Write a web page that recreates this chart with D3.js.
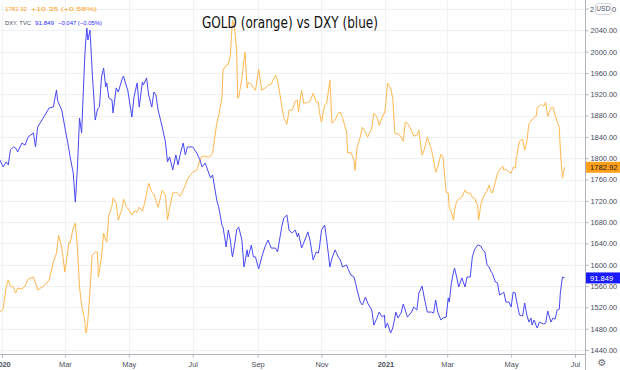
<!DOCTYPE html>
<html>
<head>
<meta charset="utf-8">
<script src="https://d3js.org/d3.v7.min.js"></script>
<style>
    body { margin: 0; background: #ffffff; }
    svg { display: block; font-family: "Liberation Sans", Arial, sans-serif; }
</style>
</head>
<body>
<svg id="chart" width="620" height="370"></svg>
<script>
// data (daily-ish samples)
const dates = [
    "2019-12-30","2020-01-02","2020-01-05","2020-01-07","2020-01-09","2020-01-12","2020-01-14","2020-01-16","2020-01-20","2020-01-23",
    "2020-01-26","2020-01-31","2020-02-02","2020-02-04","2020-02-11","2020-02-15","2020-02-19","2020-02-22","2020-02-23","2020-02-24",
    "2020-02-27","2020-03-01","2020-03-05","2020-03-06","2020-03-09","2020-03-11","2020-03-13","2020-03-15","2020-03-17","2020-03-20",
    "2020-03-21","2020-03-22","2020-03-23","2020-03-25","2020-03-27","2020-03-30","2020-04-01","2020-04-02","2020-04-03","2020-04-05",
    "2020-04-07","2020-04-09","2020-04-10","2020-04-12","2020-04-15","2020-04-16","2020-04-19","2020-04-21","2020-04-25","2020-04-26",
    "2020-04-29","2020-04-30","2020-05-04","2020-05-06","2020-05-09","2020-05-11","2020-05-14","2020-05-15","2020-05-18","2020-05-20",
    "2020-05-23","2020-05-25","2020-05-27","2020-05-29","2020-06-02","2020-06-05","2020-06-07","2020-06-09","2020-06-12","2020-06-15",
    "2020-06-17","2020-06-19","2020-06-22","2020-06-24","2020-06-26","2020-06-28","2020-07-01","2020-07-05","2020-07-08","2020-07-10",
    "2020-07-13","2020-07-16","2020-07-18","2020-07-20","2020-07-24","2020-07-26","2020-07-29","2020-07-30","2020-08-02","2020-08-04",
    "2020-08-06","2020-08-07","2020-08-08","2020-08-10","2020-08-12","2020-08-13","2020-08-14","2020-08-17","2020-08-19","2020-08-20",
    "2020-08-22","2020-08-23","2020-08-26","2020-08-28","2020-08-30","2020-09-02","2020-09-05","2020-09-08","2020-09-11","2020-09-14",
    "2020-09-18","2020-09-20","2020-09-24","2020-09-26","2020-09-29","2020-10-01","2020-10-04","2020-10-07","2020-10-09","2020-10-10",
    "2020-10-13","2020-10-15","2020-10-19","2020-10-21","2020-10-24","2020-10-27","2020-10-29","2020-10-30","2020-11-01","2020-11-04",
    "2020-11-06","2020-11-09","2020-11-11","2020-11-14","2020-11-17","2020-11-19","2020-11-21","2020-11-25","2020-11-26","2020-11-29",
    "2020-12-02","2020-12-03","2020-12-05","2020-12-08","2020-12-10","2020-12-13","2020-12-15","2020-12-19","2020-12-21","2020-12-24",
    "2020-12-26","2020-12-29","2020-12-31","2021-01-01","2021-01-03","2021-01-06","2021-01-08","2021-01-10","2021-01-11","2021-01-13",
    "2021-01-16","2021-01-18","2021-01-20","2021-01-22","2021-01-26","2021-01-28","2021-01-31","2021-02-02","2021-02-05","2021-02-07",
    "2021-02-10","2021-02-14","2021-02-16","2021-02-18","2021-02-20","2021-02-23","2021-02-25","2021-02-28","2021-03-02","2021-03-03",
    "2021-03-05","2021-03-07","2021-03-08","2021-03-10","2021-03-12","2021-03-15","2021-03-18","2021-03-20","2021-03-23","2021-03-25",
    "2021-03-27","2021-03-30","2021-03-31","2021-04-02","2021-04-04","2021-04-06","2021-04-08","2021-04-10","2021-04-12","2021-04-13",
    "2021-04-16","2021-04-18","2021-04-20","2021-04-23","2021-04-24","2021-04-26","2021-04-29","2021-05-01","2021-05-03","2021-05-05",
    "2021-05-06","2021-05-09","2021-05-12","2021-05-14","2021-05-16","2021-05-18","2021-05-20","2021-05-21","2021-05-23","2021-05-25",
    "2021-05-26","2021-05-28","2021-05-30","2021-06-01","2021-06-03","2021-06-05","2021-06-08","2021-06-10","2021-06-12","2021-06-14",
    "2021-06-16","2021-06-17","2021-06-19","2021-06-21"
];

const gold = [
    1511.3,1516.9,1558.1,1571.3,1560.0,1558.1,1546.9,1556.3,1554.4,1560.0,
    1573.1,1576.9,1565.6,1552.5,1561.9,1571.3,1605.0,1621.9,1638.8,1655.6,
    1633.1,1586.3,1642.5,1640.6,1668.8,1678.1,1633.1,1558.1,1524.4,1496.3,
    1471.9,1477.5,1496.3,1552.5,1618.1,1623.8,1623.8,1576.9,1590.0,1614.4,
    1659.4,1646.3,1642.5,1693.1,1710.0,1725.0,1715.6,1683.8,1708.1,1723.1,
    1708.1,1706.3,1693.1,1700.6,1698.8,1708.1,1700.6,1706.3,1732.5,1753.1,
    1736.3,1732.5,1721.3,1708.1,1740.0,1730.6,1683.8,1706.3,1734.4,1736.3,
    1732.5,1728.8,1740.0,1749.4,1760.6,1766.3,1773.8,1777.5,1796.3,1803.8,
    1803.8,1801.9,1803.8,1809.4,1865.6,1880.6,1914.4,1965.0,1974.4,1976.3,
    1993.1,2026.9,2058.8,2045.6,2002.5,1912.5,1914.4,1950.0,1983.8,1998.8,
    1931.3,1942.5,1938.8,1931.3,1927.5,1966.9,1927.5,1931.3,1936.9,1938.8,
    1955.6,1946.3,1899.4,1875.0,1863.8,1890.0,1890.0,1906.9,1908.8,1886.3,
    1927.5,1903.1,1905.0,1906.9,1921.9,1905.0,1905.0,1886.3,1867.5,1899.4,
    1903.1,1946.3,1865.6,1871.3,1884.4,1886.3,1876.9,1848.8,1809.4,1811.3,
    1796.3,1777.5,1820.6,1839.4,1858.1,1848.8,1839.4,1856.3,1884.4,1876.9,
    1861.9,1876.9,1884.4,1893.8,1940.6,1931.3,1912.5,1846.9,1845.0,1846.9,
    1839.4,1831.9,1867.5,1865.6,1852.5,1841.3,1843.1,1852.5,1805.6,1815.0,
    1839.4,1815.6,1796.3,1773.8,1783.1,1807.5,1801.9,1736.3,1734.4,1706.3,
    1698.8,1683.8,1702.5,1719.4,1723.1,1726.9,1740.0,1734.4,1734.4,1726.9,
    1725.0,1711.9,1683.8,1711.9,1725.6,1732.5,1738.1,1749.4,1736.3,1734.4,
    1755.0,1771.9,1777.5,1785.0,1777.5,1779.4,1773.8,1771.9,1783.1,1781.3,
    1800.0,1831.9,1835.6,1815.0,1830.0,1865.6,1869.4,1871.3,1876.9,1878.8,
    1895.6,1897.5,1901.3,1897.5,1905.0,1878.8,1893.8,1895.6,1880.6,1868.8,
    1858.1,1815.6,1762.5,1782.92
];

const dxy = [
    97.03,96.72,96.94,96.81,97.47,97.60,97.55,97.38,97.77,97.68,
    98.04,98.21,97.60,98.47,99.00,99.31,99.35,100.10,99.66,99.53,
    99.22,98.47,97.47,97.16,96.46,95.18,96.68,98.87,98.21,101.55,
    102.29,102.82,102.29,102.73,100.98,98.78,99.22,99.31,99.35,100.67,
    101.06,100.23,100.41,99.75,99.66,99.09,100.19,100.01,100.63,100.71,
    100.23,100.10,98.91,99.79,100.41,99.35,100.45,100.32,100.63,99.88,
    99.35,100.01,99.88,99.22,98.47,97.82,96.94,97.16,96.59,97.25,
    96.81,97.25,97.77,97.25,97.60,97.60,97.60,97.33,97.03,96.72,
    96.89,96.50,96.24,96.37,95.27,94.92,94.17,94.08,93.21,93.95,
    93.51,93.08,92.77,93.29,93.95,94.04,94.08,93.51,92.33,92.55,
    93.08,92.77,93.29,92.77,92.77,92.24,92.77,93.21,93.51,93.16,
    93.16,92.99,94.08,94.48,94.61,93.95,93.82,93.95,93.65,93.82,
    93.16,93.38,93.87,93.51,92.64,92.99,92.94,93.16,93.95,94.17,
    93.51,92.33,92.72,93.08,92.77,92.64,92.33,92.42,92.28,91.98,
    91.89,91.71,91.32,90.79,90.66,91.01,90.75,90.44,89.78,90.09,
    90.35,90.13,90.22,89.65,89.87,89.43,89.65,90.09,90.35,90.09,
    90.31,90.70,90.44,90.13,90.35,90.57,90.44,91.19,91.49,91.01,
    90.35,90.35,90.31,90.88,90.35,90.00,90.09,90.13,90.97,90.79,
    91.63,92.11,92.28,91.89,91.45,91.85,91.45,91.89,91.89,92.77,
    93.08,93.29,93.29,93.25,93.08,92.99,92.42,92.33,92.11,92.07,
    91.67,91.63,91.10,91.19,91.23,90.79,90.79,90.57,91.23,91.19,
    90.88,90.22,90.18,90.75,90.22,89.91,90.09,89.78,90.00,89.74,
    89.65,89.91,89.87,89.83,89.87,90.40,89.91,90.09,90.04,90.44,
    90.48,91.19,91.89,91.849
];

const priceTicks = [1440, 1480, 1520, 1560, 1600, 1640, 1680, 1720, 1760, 1800, 1840, 1880, 1920, 1960, 2000, 2040, 2080];
const timeTicks = ["2020-01-01","2020-03-01","2020-05-01","2020-07-01","2020-09-01","2020-11-01","2021-01-01","2021-03-01","2021-05-01","2021-07-01"];
const timeLabels = ["2020", "Mar", "May", "Jul", "Sep", "Nov", "2021", "Mar", "May", "Jul"];

const titleText = "GOLD (orange) vs DXY (blue)";
const goldLast = "1782.92", goldChange = "+10.35 (+0.58%)";
const dxyName = "DXY, TVC", dxyLast = "91.849", dxyChange = "\u22120.047 (\u22120.05%)";

const GOLD_COLOR = "#ffb84f";
const DXY_COLOR = "#4848f5";
const GRID = "#eef1f6";
const AXIS = "#b2b5be";
const TEXT = "#4a4e5a";

const parse = d3.utcParse("%Y-%m-%d");
const rows = dates.map((d, i) => ({ date: parse(d), gold: gold[i], dxy: dxy[i] }));

const plotRight = 585, plotBottom = 354;

let svg = d3.select("#chart");

let x = d3.scaleUtc()
    .domain([parse("2020-01-01"), parse("2021-07-01")])
    .range([2, 575]);

let yGold = d3.scaleLinear().domain([1440, 2080]).range([350, 9]);
// DXY sits on its own (hidden) scale
let yDxy = d3.scaleLinear().domain([88.685, 103.655]).range([350, 9]);

// grid
let grid = svg.append("g");
grid.selectAll(".hgrid")
    .data(priceTicks)
    .enter()
    .append("line")
    .attr("x1", 0).attr("x2", plotRight)
    .attr("y1", d => Math.round(yGold(d)) + 0.5)
    .attr("y2", d => Math.round(yGold(d)) + 0.5)
    .attr("stroke", GRID);

grid.selectAll(".vgrid")
    .data(timeTicks)
    .enter()
    .append("line")
    .attr("x1", d => Math.round(x(parse(d))) + 0.5)
    .attr("x2", d => Math.round(x(parse(d))) + 0.5)
    .attr("y1", 0).attr("y2", plotBottom)
    .attr("stroke", GRID);

// clip for series
svg.append("clipPath").attr("id", "plot")
    .append("rect").attr("x", 0).attr("y", 0).attr("width", plotRight).attr("height", plotBottom);

let lines = svg.append("g").attr("clip-path", "url(#plot)");

lines.append("path")
    .datum(rows)
    .attr("fill", "none")
    .attr("stroke", GOLD_COLOR)
    .attr("stroke-width", 1)
    .attr("stroke-linejoin", "round")
    .attr("d", d3.line().x(d => x(d.date)).y(d => yGold(d.gold)));

lines.append("path")
    .datum(rows)
    .attr("fill", "none")
    .attr("stroke", DXY_COLOR)
    .attr("stroke-width", 1)
    .attr("stroke-linejoin", "round")
    .attr("d", d3.line().x(d => x(d.date)).y(d => yDxy(d.dxy)));

// axis frame lines
svg.append("line")
    .attr("x1", plotRight + 0.5).attr("x2", plotRight + 0.5)
    .attr("y1", 0).attr("y2", 370)
    .attr("stroke", AXIS);
svg.append("line")
    .attr("x1", 0).attr("x2", plotRight)
    .attr("y1", plotBottom + 0.5).attr("y2", plotBottom + 0.5)
    .attr("stroke", AXIS);

// right price axis (top tick sits under the USD badge)
let yAxis = svg.append("g")
    .attr("transform", `translate(${plotRight + 0.5},0)`)
    .call(d3.axisRight(yGold).tickValues(priceTicks.slice(0, -1)).tickFormat(d3.format(".2f")).tickSize(3).tickPadding(2));
yAxis.select(".domain").remove();
yAxis.selectAll("line").attr("stroke", AXIS);
yAxis.selectAll("text")
    .attr("fill", TEXT)
    .style("font-size", "7.4px")
    .style("font-family", "Liberation Sans, Arial, sans-serif");

// bottom time axis
let xAxis = svg.append("g")
    .attr("transform", `translate(0,${plotBottom + 0.5})`)
    .call(d3.axisBottom(x).tickValues(timeTicks.map(parse)).tickFormat((d, i) => timeLabels[i]).tickSize(3).tickPadding(4));
xAxis.select(".domain").remove();
xAxis.selectAll("line").attr("stroke", AXIS);
xAxis.selectAll("text")
    .attr("fill", TEXT)
    .style("font-size", "7.4px")
    .style("font-family", "Liberation Sans, Arial, sans-serif")
    .style("font-weight", (d, i) => /^\d{4}$/.test(timeLabels[i]) ? "bold" : "normal");

// last value badges on the price scale
function badge(y, label, fill, color) {
    let g = svg.append("g");
    g.append("rect")
        .attr("x", plotRight + 1).attr("y", y - 5.5)
        .attr("width", 620 - plotRight - 1).attr("height", 11)
        .attr("fill", fill);
    g.append("text")
        .attr("x", plotRight + 5).attr("y", y)
        .attr("dy", "0.35em")
        .attr("fill", color)
        .style("font-size", "7.6px")
        .text(label);
}
badge(yGold(+goldLast), goldLast, "#ff9f1a", "#1b1b1b");
badge(yDxy(+dxyLast), dxyLast, "#1a1aff", "#ffffff");

// USD badge at the top of the price scale, with the clipped 2080 label around it
let topY = yGold(priceTicks[priceTicks.length - 1]);
svg.append("line")
    .attr("x1", plotRight + 0.5).attr("x2", plotRight + 3.5)
    .attr("y1", topY).attr("y2", topY)
    .attr("stroke", AXIS);
svg.append("text")
    .attr("x", 590).attr("y", topY).attr("dy", "0.35em")
    .attr("fill", TEXT).style("font-size", "7.4px")
    .text("2");
svg.append("text")
    .attr("x", 612).attr("y", topY).attr("dy", "0.35em")
    .attr("fill", TEXT).style("font-size", "7.4px")
    .text("0");
svg.append("rect")
    .attr("x", 595.5).attr("y", 3.5).attr("width", 15.5).attr("height", 11).attr("rx", 2)
    .attr("fill", "#ffffff").attr("stroke", "#d1d4dc");
svg.append("text")
    .attr("x", 603.2).attr("y", 9).attr("dy", "0.35em")
    .attr("text-anchor", "middle")
    .attr("fill", TEXT)
    .style("font-size", "6.6px")
    .text("USD");

// settings gear
svg.append("text")
    .attr("x", 602).attr("y", 362).attr("dy", "0.35em")
    .attr("text-anchor", "middle")
    .attr("fill", "#6a6d78")
    .style("font-family", "DejaVu Sans")
    .style("font-size", "10px")
    .text("\u2699");

// legend, top left
let legend = svg.append("g").style("font-size", "5.8px");
function legendText(x0, y0, w, color, label) {
    legend.append("text")
        .attr("x", x0).attr("y", y0)
        .attr("fill", color)
        .attr("textLength", w)
        .attr("lengthAdjust", "spacingAndGlyphs")
        .text(label);
}
legendText(5, 11, 22, "#ff9f1a", goldLast);
legendText(31, 11, 66, "#ff9f1a", goldChange);
legendText(5, 25, 26, TEXT, dxyName);
legendText(35, 25, 19, "#2a2aff", dxyLast);
legendText(58, 25, 44, "#2a2aff", dxyChange);

// title
svg.append("text")
    .attr("x", 202).attr("y", 27.5)
    .attr("fill", "#111111")
    .attr("textLength", 176)
    .attr("lengthAdjust", "spacingAndGlyphs")
    .style("font-family", "DejaVu Sans, sans-serif")
    .style("font-size", "15px")
    .text(titleText);
</script>
</body>
</html>
